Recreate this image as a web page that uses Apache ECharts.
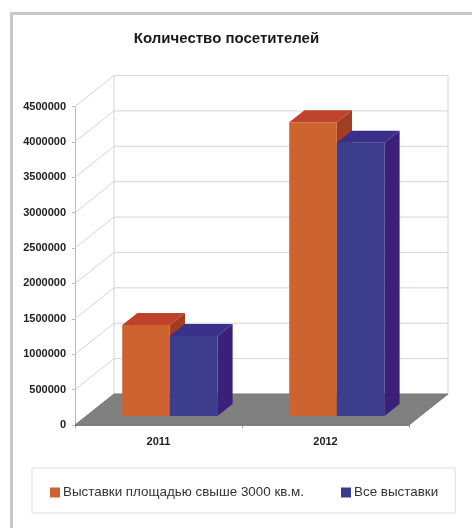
<!DOCTYPE html>
<html>
<head>
<meta charset="utf-8">
<style>html,body{margin:0;padding:0;background:#fff}#c{width:472px;height:528px}</style>
<script src="https://cdn.jsdelivr.net/npm/echarts@6/dist/echarts.min.js"></script>
</head>
<body>
<div id="c"></div>
<script>
const titleText = 'Количество посетителей';
const categories = ['2011', '2012'];
const seriesNames = ['Выставки площадью свыше 3000 кв.м.', 'Все выставки'];
const exhibitionsLarge = [1285000, 4150000];
const exhibitionsAll = [1130000, 3860000];
const yTicks = [0, 500000, 1000000, 1500000, 2000000, 2500000, 3000000, 3500000, 4000000, 4500000];

const FONT = '"Liberation Sans", Arial, sans-serif';
const WALL_DX = 39, WALL_DY = -31;
const BAR_FRONT = 0.29, BAR_DEPTH = 0.39, BAR_BAND = 0.285;

function wallItem(params, api) {
  const cs = params.coordSys;
  const v = api.value(1);
  const p = api.coord([0, v]);
  const x0 = cs.x, x1 = cs.x + cs.width, y = p[1];
  const children = [];
  const line = '#d4d4d4';
  if (params.dataIndex === 0) {
    children.push({type: 'line', shape: {x1: x0 + WALL_DX, y1: cs.y + WALL_DY, x2: x0 + WALL_DX, y2: y + WALL_DY}, style: {stroke: line, lineWidth: 1}});
    children.push({type: 'line', shape: {x1: x1 + WALL_DX, y1: cs.y + WALL_DY, x2: x1 + WALL_DX, y2: y + WALL_DY}, style: {stroke: line, lineWidth: 1}});
    children.push({type: 'polygon', shape: {points: [[x0, y], [x0 + WALL_DX, y + WALL_DY], [x1 + WALL_DX, y + WALL_DY], [x1, y]]}, style: {fill: '#808080', stroke: '#777', lineWidth: 1}});
  } else {
    children.push({type: 'polyline', shape: {points: [[x0, y], [x0 + WALL_DX, y + WALL_DY], [x1 + WALL_DX, y + WALL_DY]]}, style: {fill: 'none', stroke: line, lineWidth: 1}});
  }
  return {type: 'group', children: children};
}

function barRenderer(side, colors) {
  return function (params, api) {
    const cat = api.value(0), v = api.value(1);
    const base = api.coord([cat, 0]);
    const top = api.coord([cat, v]);
    const w = api.size([1, 0])[0] * BAR_BAND;
    const fx = WALL_DX * BAR_FRONT, fy = WALL_DY * BAR_FRONT;
    const dx = WALL_DX * BAR_DEPTH, dy = WALL_DY * BAR_DEPTH;
    const xl = base[0] + fx + (side === 0 ? -w : 0), xr = xl + w;
    const yb = base[1] + fy, yt = top[1] + fy;
    return {type: 'group', children: [
      {type: 'polygon', shape: {points: [[xl, yt], [xl + dx, yt + dy], [xr + dx, yt + dy], [xr, yt]]}, style: {fill: colors.top}},
      {type: 'polygon', shape: {points: [[xr, yt], [xr + dx, yt + dy], [xr + dx, yb + dy], [xr, yb]]}, style: {fill: colors.side}},
      {type: 'rect', shape: {x: xl, y: yt, width: w, height: yb - yt}, style: {fill: colors.front}}
    ]};
  };
}

const chart = echarts.init(document.getElementById('c'), null, {renderer: 'canvas'});
chart.setOption({
  animation: false,
  backgroundColor: '#fff',
  title: {
    text: titleText, left: 221.5, top: 26, textAlign: 'center',
    textStyle: {fontFamily: FONT, fontSize: 15, fontWeight: 'bold', color: '#1a1a1a'}
  },
  grid: {left: 75, top: 106.5, width: 334, height: 318.5},
  xAxis: {
    type: 'category', data: categories,
    axisLine: {show: true, lineStyle: {color: '#888'}},
    axisTick: {show: true, length: 3, lineStyle: {color: '#999'}},
    axisLabel: {margin: 11, fontFamily: FONT, fontSize: 11, fontWeight: 'bold', color: '#222'}
  },
  yAxis: {
    type: 'value', min: 0, max: 4500000, interval: 500000,
    axisLine: {show: true, lineStyle: {color: '#bbb'}},
    axisTick: {show: true, length: 3, lineStyle: {color: '#bbb'}},
    splitLine: {show: false},
    axisLabel: {margin: 9, fontFamily: FONT, fontSize: 11, fontWeight: 'bold', color: '#222', formatter: v => String(v)}
  },
  legend: {
    data: seriesNames, left: 32, top: 468,
    padding: [18, 17, 14, 18], itemGap: 37, itemWidth: 10, itemHeight: 10,
    icon: 'rect', borderColor: '#ddd', borderWidth: 1,
    textStyle: {fontFamily: FONT, fontSize: 13.4, color: '#333', padding: [0, 0, 0, -2]}
  },
  series: [
    {type: 'custom', name: 'walls', silent: true, clip: false, z: 1,
     renderItem: wallItem, data: yTicks.map(t => [0, t]), encode: {x: 0, y: 1}},
    {type: 'custom', name: seriesNames[0], clip: false, z: 2, silent: true,
     itemStyle: {color: '#cd6430'},
     renderItem: barRenderer(0, {front: '#cd6430', top: '#bf432a', side: '#a03d22'}),
     data: exhibitionsLarge.map((v, i) => [i, v]), encode: {x: 0, y: 1}},
    {type: 'custom', name: seriesNames[1], clip: false, z: 3, silent: true,
     itemStyle: {color: '#3c3c8c'},
     renderItem: barRenderer(1, {front: '#3d3d8e', top: '#38308a', side: '#3a2078'}),
     data: exhibitionsAll.map((v, i) => [i, v]), encode: {x: 0, y: 1}}
  ],
  graphic: [
    {type: 'line', z: 10, shape: {x1: 11.5, y1: 13.5, x2: 472, y2: 13.5}, style: {stroke: '#c8c8c8', lineWidth: 3}},
    {type: 'line', z: 10, shape: {x1: 11.5, y1: 12, x2: 11.5, y2: 528}, style: {stroke: '#c8c8c8', lineWidth: 3}}
  ]
});
</script>
</body>
</html>
